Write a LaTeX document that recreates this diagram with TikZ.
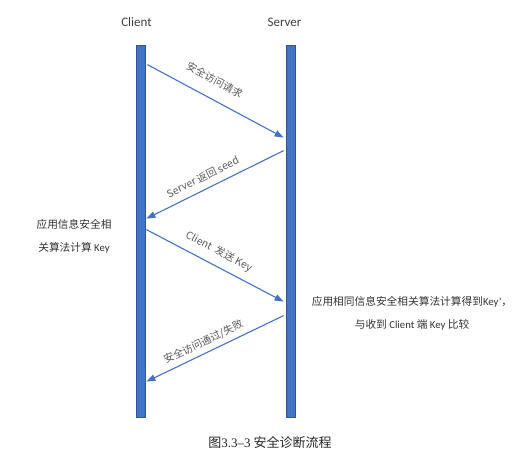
\documentclass[tikz,border=0pt]{standalone}
\usepackage{fontspec}
\setmainfont{Carlito}
\newfontfamily\cjk{Noto Sans CJK SC}
\newfontfamily\capserif{Liberation Serif}
\usetikzlibrary{positioning,arrows.meta}
\definecolor{barblue}{HTML}{4472C4}
\definecolor{baredge}{HTML}{2F5597}
\definecolor{txtgray}{HTML}{595959}

\begin{document}
\begin{tikzpicture}[x=1pt, y=-1pt,
  bar/.style={draw=baredge, fill=barblue, line width=0.8pt, minimum width=9pt, minimum height=372pt, inner sep=0pt},
  head/.style={font=\fontsize{13}{15}\selectfont, text=black!75},
  msg/.style={-{Triangle[length=9pt,width=6.5pt]}, barblue, line width=1.1pt},
  lbl/.style={font=\cjk\fontsize{10.3}{12}\selectfont, text=txtgray, sloped, inner sep=1pt},
  note/.style={font=\fontsize{10.7}{23}\selectfont, text=black!80, align=center}]
  \useasboundingbox (0,0) rectangle (518,455);
  % lifelines
  \node[bar] (client) at (140.5,231) {};
  \node[bar] (server) at (290.5,231) {};
  \node[head, above=14pt of client, xshift=-4pt] (clienthead) {Client};
  \node[head, above=14pt of server, xshift=-6pt] (serverhead) {Server};

  % messages
  \draw[msg] ([xshift=2pt,yshift=-20pt]client.north east) -- node[lbl, pos=0.43, above=12pt] {安全访问请求} ([xshift=-2pt,yshift=-93pt]server.north west);
  \draw[msg] ([xshift=-2pt,yshift=-106pt]server.north west) -- node[lbl, pos=0.55, above=6pt] {Server 返回 seed} ([xshift=1pt,yshift=-174pt]client.north east);
  \draw[msg] ([xshift=1pt,yshift=-185pt]client.north east) -- node[lbl, pos=0.48, above=7pt] {Client\ \ 发送 Key} ([xshift=-2pt,yshift=-257pt]server.north west);
  \draw[msg] ([xshift=-2pt,yshift=-271pt]server.north west) -- node[lbl, pos=0.55, above=4pt] {安全访问通过/失败} ([xshift=1pt,yshift=-337pt]client.north east);

  % notes
  \node[note] (clientcalc) at (74,236) {{\cjk 应用信息安全相}\\{\cjk 关算法计算} Key};
  \node[note] (servercalc) at (412,313) {{\cjk 应用相同信息安全相关算法计算得到}Key'{\cjk ，}\\{\cjk 与收到} Client {\cjk 端} Key {\cjk 比较}};

  \node[font=\fontsize{13}{15}\selectfont, text=black!85] (caption) at (270,443) {{\cjk 图}{\capserif 3.3–3} {\cjk 安全诊断流程}};
\end{tikzpicture}
\end{document}
